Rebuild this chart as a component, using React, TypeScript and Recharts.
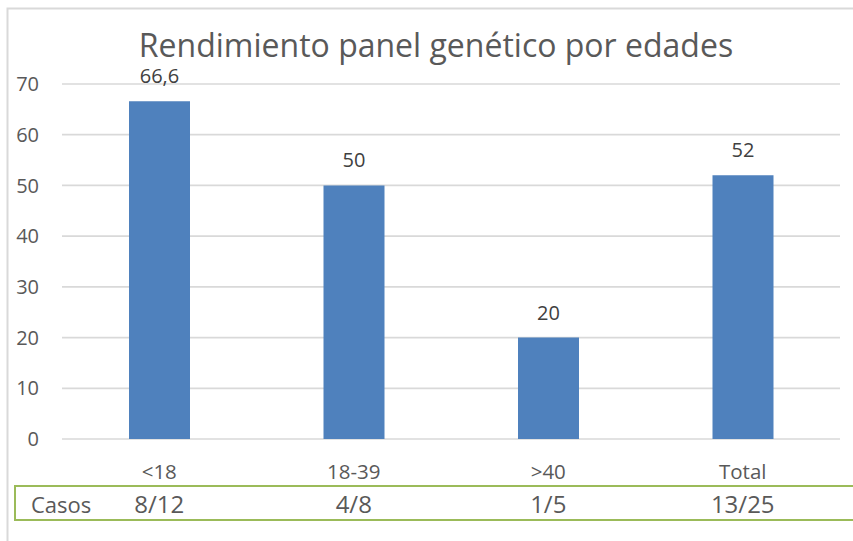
import React from "react";
import { BarChart, Bar, XAxis, YAxis, CartesianGrid, LabelList } from "recharts";

const grupos = ["<18", "18-39", ">40", "Total"];
const rendimiento = [66.6, 50, 20, 52];
const casos = ["8/12", "4/8", "1/5", "13/25"];
const yTicks = [0, 10, 20, 30, 40, 50, 60, 70];

const data = grupos.map((grupo, i) => ({
  grupo,
  valor: rendimiento[i],
  casos: casos[i],
}));

const FONT = "'Open Sans', sans-serif";
const W = 853;
const H = 541;

const fmt = (v: number) => String(v).replace(".", ",");

function CategoryTick(props: any) {
  const { x, y, payload } = props;
  const i = payload.index;
  return (
    <g>
      <text x={x} y={y + 39.5} textAnchor="middle" fontFamily={FONT} fontSize={20.5} fill="#595959">
        {payload.value}
      </text>
      <text x={x} y={y + 73.5} textAnchor="middle" fontFamily={FONT} fontSize={24} fill="#595959">
        {casos[i]}
      </text>
    </g>
  );
}

function ValueTick(props: any) {
  const { x, y, payload } = props;
  return (
    <text x={x - 23} y={y} dy="0.36em" textAnchor="end" fontFamily={FONT} fontSize={20} fill="#595959">
      {payload.value}
    </text>
  );
}

function BarValue(props: any) {
  const { x, y, width, value } = props;
  return (
    <text x={x + width / 2} y={y - 18} textAnchor="middle" fontFamily={FONT} fontSize={20} fill="#404040">
      {fmt(value)}
    </text>
  );
}

export default function App() {
  return (
    <div style={{ position: "absolute", left: 0, top: 0, width: W, height: H, background: "#fff" }}>
      {/* chart frame, title and the "Casos" table row */}
      <svg width={W} height={H} style={{ position: "absolute", left: 0, top: 0 }}>
        <rect x={7.5} y={8.5} width={900} height={600} fill="none" stroke="#d9d9d9" strokeWidth={2} />
        <text x={436} y={57} textAnchor="middle" fontFamily={FONT} fontSize={32} fill="#595959">
          Rendimiento panel genético por edades
        </text>
        <rect x={15} y={486} width={900} height={34} fill="none" stroke="#9bbb59" strokeWidth={2} />
        <text x={31} y={513} fontFamily={FONT} fontSize={22} fill="#595959">
          Casos
        </text>
      </svg>
      <div style={{ position: "absolute", left: 0, top: 0 }}>
        <BarChart width={W} height={H} data={data} margin={{ top: 84, right: 13, bottom: 0, left: 0 }}>
          <CartesianGrid vertical={false} stroke="#d9d9d9" strokeWidth={1.7} />
          <XAxis
            dataKey="grupo"
            axisLine={false}
            tickLine={false}
            tickSize={0}
            tickMargin={0}
            height={102}
            interval={0}
            tick={<CategoryTick />}
          />
          <YAxis
            domain={[0, 70]}
            ticks={yTicks}
            width={62}
            axisLine={false}
            tickLine={false}
            tickSize={0}
            tickMargin={0}
            tick={<ValueTick />}
          />
          <Bar dataKey="valor" fill="#4f81bd" barSize={61} isAnimationActive={false}>
            <LabelList dataKey="valor" content={<BarValue />} />
          </Bar>
        </BarChart>
      </div>
    </div>
  );
}
